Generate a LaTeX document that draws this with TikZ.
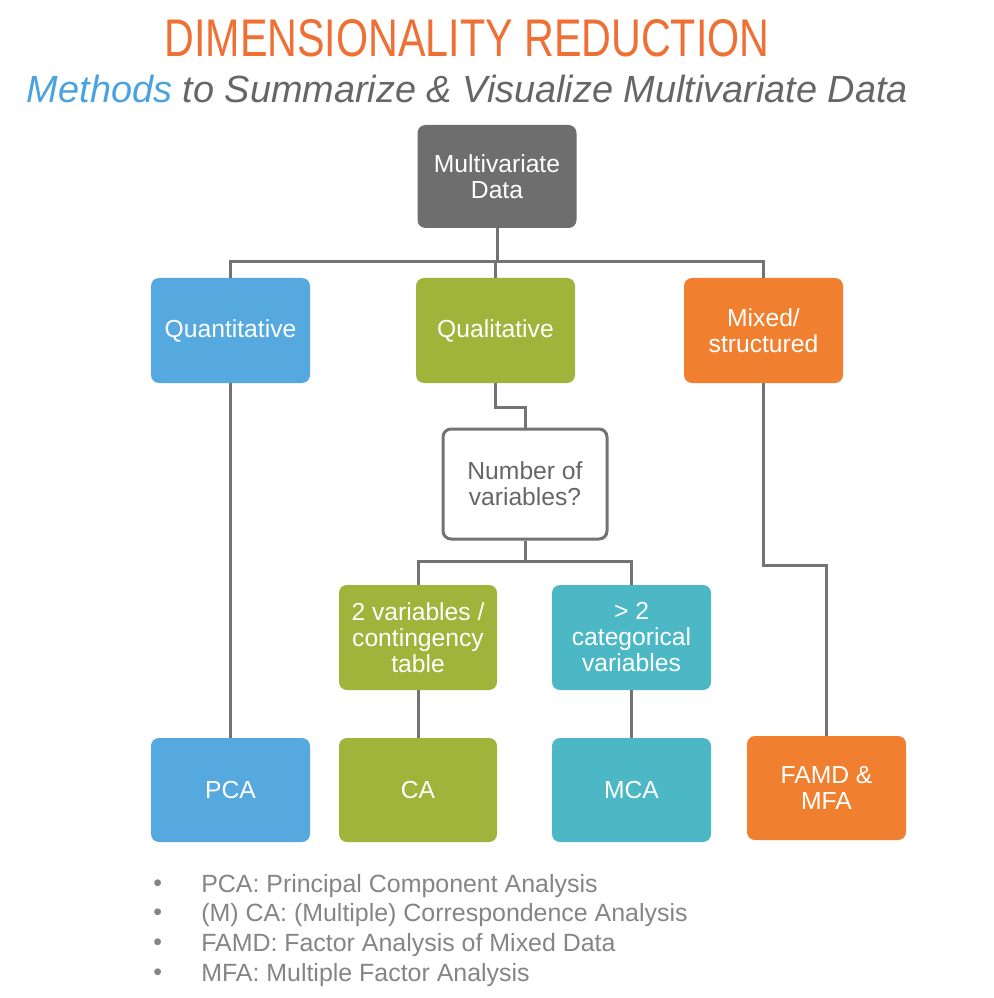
\documentclass[tikz,border=0pt]{standalone}
\usepackage{fontspec}
\setmainfont{Liberation Sans}
\setsansfont{Liberation Sans}
\usepackage{graphicx}
\newlength\pxl
\setlength\pxl{0.75pt}
\definecolor{cgray}{HTML}{6E6E6E}
\definecolor{cblue}{HTML}{56A9DF}
\definecolor{cgreen}{HTML}{A0B33A}
\definecolor{corange}{HTML}{F08030}
\definecolor{cteal}{HTML}{4DB8C5}
\definecolor{ctitle}{HTML}{EE7034}
\definecolor{csub}{HTML}{666666}
\definecolor{cmeth}{HTML}{4AA3DF}
\definecolor{cline}{HTML}{737373}
\definecolor{cbullet}{HTML}{858585}
\begin{document}
\begin{tikzpicture}[x=0.75pt,y=-0.75pt,
  box/.style={rounded corners=8\pxl, text=white, align=center, inner sep=0pt,
    font=\fontsize{18.5}{19.5}\selectfont},
  wbox/.style={box, minimum width=159\pxl, minimum height=105\pxl},
  conn/.style={draw=cline, line width=3\pxl},
  bul/.style={anchor=west, inner sep=0pt, text=cbullet, font=\fontsize{18.7}{20}\selectfont}]
\useasboundingbox (0,0) rectangle (993,998);
\fill[white] (0,0) rectangle (993,998);
% title
\node[inner sep=0pt, text=ctitle] (title) at (467,38) {\resizebox{453.75pt}{27.75pt}{DIMENSIONALITY REDUCTION}};
\node[inner sep=0pt, text=csub] (sub) at (467.5,89) {\resizebox{660.75pt}{!}{\itshape\textcolor{cmeth}{Methods} to Summarize \& Visualize Multivariate Data}};
% boxes
\node[box, fill=cgray, minimum width=159\pxl, minimum height=103\pxl] (md) at (497,176.5) {Multivariate\\Data};
\node[wbox, fill=cblue] (quant) at (230.5,330.5) {Quantitative};
\node[wbox, fill=cgreen] (qual) at (495.5,330.5) {Qualitative};
\node[wbox, fill=corange] (mixed) at (763.5,330.5) {Mixed/\\structured};
\node[box, draw=cline, line width=3\pxl, fill=white, text=csub, minimum width=164\pxl, minimum height=110\pxl] (num) at (525,484) {Number of\\variables?};
\node[wbox, fill=cgreen, minimum width=158\pxl] (twov) at (418,637.5) {2 variables /\\contingency\\table};
\node[wbox, fill=cteal] (gt2) at (631.5,637.5) {> 2\\categorical\\variables};
\node[wbox, fill=cblue, minimum height=104\pxl] (pca) at (230.5,790) {PCA};
\node[wbox, fill=cgreen, minimum width=158\pxl, minimum height=104\pxl] (ca) at (418,790) {CA};
\node[wbox, fill=cteal, minimum height=104\pxl] (mca) at (631.5,790) {MCA};
\node[wbox, fill=corange, minimum height=104\pxl] (famd) at (826.5,788) {FAMD \&\\MFA};
% connectors
\coordinate (bus1) at (497,262);
\coordinate (j1) at (497,407);
\coordinate (j2) at (525,561);
\coordinate (j3) at (763,565);
\draw[conn] (md.south) -- (bus1);
\draw[conn] (quant.north) -- (quant.north |- bus1) -- (mixed.north |- bus1) -- (mixed.north);
\draw[conn] (qual.north |- bus1) -- (qual.north);
\draw[conn] (qual.south) -- (qual.south |- j1) -| (num.north);
\draw[conn] (num.south) -- (j2);
\draw[conn] (twov.north) -- (twov.north |- j2) -- (gt2.north |- j2) -- (gt2.north);
\draw[conn] (quant.south) -- (pca.north);
\draw[conn] (twov.south) -- (ca.north);
\draw[conn] (gt2.south) -- (mca.north);
\draw[conn] (mixed.south) -- (mixed.south |- j3) -| (famd.north);
% legend
\foreach \y/\t/\n in {886/{PCA: Principal Component Analysis}/l1,
                      915/{(M) CA: (Multiple) Correspondence Analysis}/l2,
                      945/{FAMD: Factor Analysis of Mixed Data}/l3,
                      975/{MFA: Multiple Factor Analysis}/l4}{
  \node[bul] (b\n) at (153,\y) {•};
  \node[bul] (\n) at (201,\y) {\t};
}
\end{tikzpicture}
\end{document}
